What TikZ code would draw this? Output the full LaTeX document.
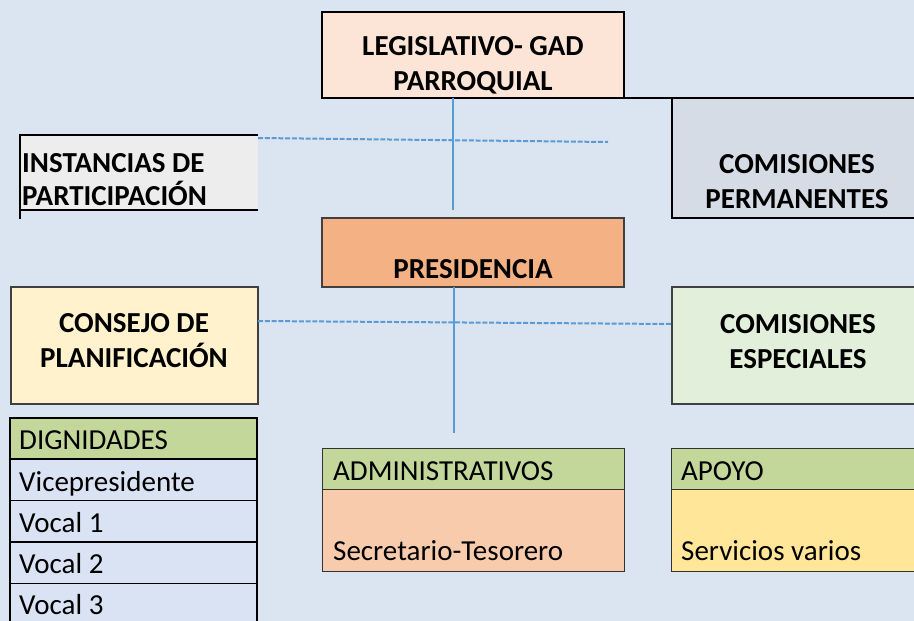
\documentclass[tikz,border=0pt]{standalone}
\usepackage{fontspec}
\setmainfont{Carlito}
\usetikzlibrary{calc}
\definecolor{bg}{HTML}{DBE5F1}
\definecolor{legfill}{HTML}{FCE4D6}
\definecolor{presfill}{HTML}{F4B183}
\definecolor{permfill}{HTML}{D6DCE5}
\definecolor{instfill}{HTML}{EDEDED}
\definecolor{consfill}{HTML}{FFF2CC}
\definecolor{espfill}{HTML}{E2EFDA}
\definecolor{headgreen}{HTML}{C4D79B}
\definecolor{admfill}{HTML}{F8CBAD}
\definecolor{apofill}{HTML}{FFE699}
\definecolor{rowfill}{HTML}{DAE3F3}
\definecolor{lineblue}{HTML}{5B9BD5}
\begin{document}
\begin{tikzpicture}[x=1pt,y=-1pt,
  box/.style={rectangle, inner sep=0pt, outer sep=0pt, anchor=north west},
  thickb/.style={draw=black, line width=2pt},
  thinb/.style={draw=black!75, line width=1.2pt},
  cellb/.style={draw=black, line width=1.6pt},
  txt/.style={inner sep=0pt, font=\fontsize{29}{35}\selectfont},
  txtb/.style={inner sep=0pt, font=\fontsize{29}{35}\selectfont\bfseries},
  conn/.style={draw=lineblue, line width=1.6pt},
  dconn/.style={draw=lineblue, line width=2pt, dash pattern=on 5pt off 1.8pt}]
\fill[bg] (0,0) rectangle (914,621);
\useasboundingbox (0,0) rectangle (914,621);

% boxes
\node[box, fill=legfill, thickb, minimum width=302pt, minimum height=86pt] (leg) at (322,12) {};
\node[box, fill=permfill, minimum width=250pt, minimum height=120pt] (perm) at (672,98) {};
\draw[thickb] (leg.south east) -- (perm.north east);
\draw[thickb] (perm.north west) -- (perm.south west) -- (perm.south east);
\node[box, fill=instfill, minimum width=238pt, minimum height=75pt] (inst) at (20,135) {};
\draw[thickb] (inst.north east) -- (inst.north west) -- ($(inst.south west)+(0,9)$);
\draw[thickb] (inst.south west) -- (inst.south east);
\node[box, fill=presfill, thinb, minimum width=302pt, minimum height=69pt] (pres) at (322,218) {};
\node[box, fill=consfill, thinb, minimum width=247pt, minimum height=117pt] (cons) at (11,287) {};
\node[box, fill=espfill, thinb, minimum width=250pt, minimum height=117pt] (esp) at (672,287) {};

% dignidades table
\node[box, fill=headgreen, cellb, minimum width=247pt, minimum height=41pt] (dh) at (10,418) {};
\node[box, fill=rowfill, cellb, minimum width=247pt, minimum height=41.5pt] (d1) at (10,459) {};
\node[box, fill=rowfill, cellb, minimum width=247pt, minimum height=41.5pt] (d2) at (10,500.5) {};
\node[box, fill=rowfill, cellb, minimum width=247pt, minimum height=41.5pt] (d3) at (10,542) {};
\node[box, fill=rowfill, cellb, minimum width=247pt, minimum height=45pt] (d4) at (10,583.5) {};

% administrativos / apoyo
\node[box, fill=headgreen, draw=black!80, line width=1pt, minimum width=302pt, minimum height=41pt] (ah) at (322,448) {};
\node[box, fill=admfill, draw=black!80, line width=1pt, minimum width=302pt, minimum height=82pt] (ab) at (322,489) {};
\node[box, fill=headgreen, draw=black!80, line width=1pt, minimum width=250pt, minimum height=41pt] (ph) at (671,448) {};
\node[box, fill=apofill, draw=black!80, line width=1pt, minimum width=250pt, minimum height=82pt] (pb) at (671,489) {};

% connectors
\coordinate (j1) at (453,210);
\draw[conn] (leg.south -| j1) -- (j1);
\coordinate (j2) at (454,433);
\draw[conn] (pres.south -| j2) -- (j2);
\coordinate (e1) at (608,142);
\draw[dconn] ($(inst.north east)+(0,3)$) -- (e1);
\draw[dconn] ($(cons.east)+(0,-24.5)$) -- ($(esp.west)+(0,-21.5)$);

% texts
\node[txtb, anchor=base] (legA) at (473,55) {LEGISLATIVO- GAD};
\node[txtb, anchor=base] (legB) at (473,90) {PARROQUIAL};
\node[txtb, anchor=base] (permA) at (797,173) {COMISIONES};
\node[txtb, anchor=base] (permB) at (797,208) {PERMANENTES};
\node[txtb, anchor=base west] (instA) at (22,172) {INSTANCIAS DE};
\node[txtb, anchor=base west] (instB) at (22,205) {PARTICIPACIÓN};
\node[txtb, anchor=base] (presA) at (473,278) {PRESIDENCIA};
\node[txtb, anchor=base] (consA) at (134,332) {CONSEJO DE};
\node[txtb, anchor=base] (consB) at (134,367) {PLANIFICACIÓN};
\node[txtb, anchor=base] (espA) at (798,333) {COMISIONES};
\node[txtb, anchor=base] (espB) at (798,368) {ESPECIALES};
\node[txt, anchor=base west] (dhT) at (19,449) {DIGNIDADES};
\node[txt, anchor=base west] (d1T) at (19,491) {Vicepresidente};
\node[txt, anchor=base west] (d2T) at (19,532) {Vocal 1};
\node[txt, anchor=base west] (d3T) at (19,573) {Vocal 2};
\node[txt, anchor=base west] (d4T) at (19,614) {Vocal 3};
\node[txt, anchor=base west] (ahT) at (333,480) {ADMINISTRATIVOS};
\node[txt, anchor=base west] (abT) at (333,560) {Secretario-Tesorero};
\node[txt, anchor=base west] (phT) at (681,480) {APOYO};
\node[txt, anchor=base west] (pbT) at (681,560) {Servicios varios};
\end{tikzpicture}
\end{document}
